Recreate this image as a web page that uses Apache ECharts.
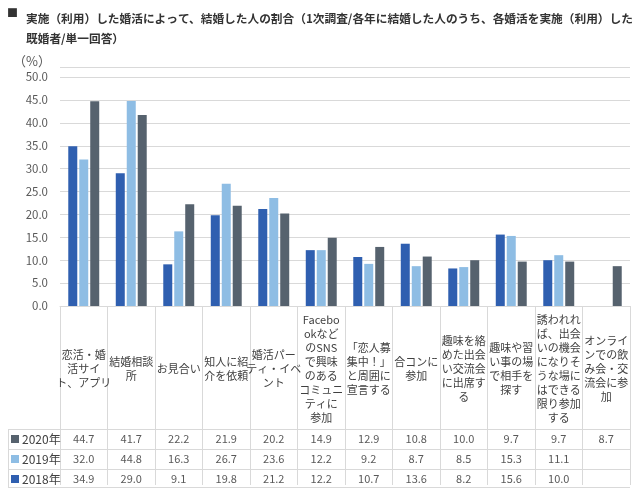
<!DOCTYPE html>
<html><head><meta charset="utf-8">
<script src="https://cdn.jsdelivr.net/npm/echarts@6/dist/echarts.min.js"></script>
<style>html,body{margin:0;padding:0;background:#fff}#c{width:640px;height:496px}</style>
</head><body><div id="c"></div>
<script>
var titleText = "実施（利用）した婚活によって、結婚した人の割合（1次調査/各年に結婚した人のうち、各婚活を実施（利用）した\n既婚者/単一回答）";
var unitLabel = "（%）";
var categories = [
  "恋活・婚\n活サイ\nト、アプリ",
  "結婚相談\n所",
  "お見合い",
  "知人に紹\n介を依頼",
  "婚活パー\nティ・イベ\nント",
  "Facebo\nokなど\nのSNS\nで興味\nのある\nコミュニ\nティに\n参加",
  "「恋人募\n集中！」\nと周囲に\n宣言する",
  "合コンに\n参加",
  "趣味を絡\nめた出会\nい交流会\nに出席す\nる",
  "趣味や習\nい事の場\nで相手を\n探す",
  "誘われれ\nば、出会\nいの機会\nになりそ\nうな場に\nはできる\n限り参加\nする",
  "オンライ\nンでの飲\nみ会・交\n流会に参\n加"
];
var seriesNames = ["2018年", "2019年", "2020年"];
var legendOrder = ["2020年", "2019年", "2018年"];
var v2018 = [34.9, 29.0, 9.1, 19.8, 21.2, 12.2, 10.7, 13.6, 8.2, 15.6, 10.0, null];
var v2019 = [32.0, 44.8, 16.3, 26.7, 23.6, 12.2, 9.2, 8.7, 8.5, 15.3, 11.1, null];
var v2020 = [44.7, 41.7, 22.2, 21.9, 20.2, 14.9, 12.9, 10.8, 10.0, 9.7, 9.7, 8.7];
var colors = ["#2F5FB0", "#8EBDE4", "#56626E"];

var FONT = "'Noto Sans CJK JP', 'Noto Sans', sans-serif";
var GRID_L = 60, GRID_R = 10, GRID_TOP = 67, AXIS_Y = 306;
var ROW_H = 20, TABLE_TOP = 429, TABLE_LEFT = 8;
var gridBottom = 496 - AXIS_Y;
var lineColor = "#D9D9D9";

function fmt(v) { return (v === null || v === undefined) ? "" : v.toFixed(1); }

function tableAxis(vals, rowIdx) {
  return {
    type: "category", data: categories, position: "bottom", gridIndex: 0,
    offset: (TABLE_TOP - AXIS_Y) + ROW_H * rowIdx + ROW_H / 2,
    axisLine: {show: false}, axisTick: {show: false}, splitLine: {show: false},
    axisLabel: {
      interval: 0, margin: 0, verticalAlign: "middle", fontFamily: FONT,
      fontSize: 11, color: "#595959",
      formatter: function (val, idx) { return fmt(vals[idx]); }
    }
  };
}

var graphics = [
  {type: "text", left: 7, top: 7, style: {text: "■", font: "bold 11px " + FONT, fill: "#333"}},
  {type: "text", left: 13, top: 55, style: {text: unitLabel, font: "13px " + FONT, fill: "#595959"}}
];
for (var i = 0; i < 4; i++) {
  var y = TABLE_TOP + ROW_H * i - (i === 3 ? 2 : 0);
  graphics.push({type: "line", shape: {x1: TABLE_LEFT, y1: y + 0.5, x2: 640 - GRID_R, y2: y + 0.5},
    style: {stroke: lineColor, lineWidth: 1}, silent: true});
}
graphics.push({type: "line", shape: {x1: TABLE_LEFT + 0.5, y1: TABLE_TOP, x2: TABLE_LEFT + 0.5, y2: TABLE_TOP + ROW_H * 3 - 2},
  style: {stroke: lineColor, lineWidth: 1}, silent: true});

var chart = echarts.init(document.getElementById("c"), null, {renderer: "canvas"});
chart.setOption({
  backgroundColor: "#fff",
  animation: false,
  textStyle: {fontFamily: FONT},
  title: {
    text: titleText, left: 21, top: 4,
    textStyle: {fontSize: 11.7, fontWeight: "bold", color: "#333", lineHeight: 20, fontFamily: FONT}
  },
  legend: {
    data: legendOrder,
    orient: "vertical", left: 11, top: TABLE_TOP + 3, padding: 0,
    itemGap: 6, itemWidth: 8, itemHeight: 8, icon: "rect",
    textStyle: {fontSize: 12, color: "#404040", lineHeight: 14, padding: [0, 0, 0, -2], fontFamily: FONT}
  },
  grid: {left: GRID_L, right: GRID_R, top: GRID_TOP, bottom: gridBottom, containLabel: false},
  xAxis: [
    {
      type: "category", data: categories, gridIndex: 0, position: "bottom",
      axisLine: {show: true, lineStyle: {color: lineColor}},
      axisTick: {show: true, interval: 0, length: 487 - AXIS_Y - 2, lineStyle: {color: lineColor}},
      axisLabel: {
        interval: 0, margin: 63, verticalAlign: "middle", hideOverlap: false,
        fontSize: 11, lineHeight: 14, color: "#404040", fontFamily: FONT
      }
    },
    tableAxis(v2020, 0),
    tableAxis(v2019, 1),
    tableAxis(v2018, 2)
  ],
  yAxis: {
    type: "value", min: 0, max: 52.2, interval: 5,
    axisLine: {show: false}, axisTick: {show: false},
    axisLabel: {
      showMaxLabel: false, margin: 12, fontSize: 11.5, color: "#595959", fontFamily: FONT,
      formatter: function (v) { return v.toFixed(1); }
    },
    splitLine: {show: true, lineStyle: {color: lineColor, width: 1}}
  },
  series: [
    {name: seriesNames[0], type: "bar", data: v2018, itemStyle: {color: colors[0]}, barWidth: 9, barGap: "22%"},
    {name: seriesNames[1], type: "bar", data: v2019, itemStyle: {color: colors[1]}, barWidth: 9, barGap: "22%"},
    {name: seriesNames[2], type: "bar", data: v2020, itemStyle: {color: colors[2]}, barWidth: 9, barGap: "22%"}
  ],
  graphic: graphics
});
</script>
</body></html>
